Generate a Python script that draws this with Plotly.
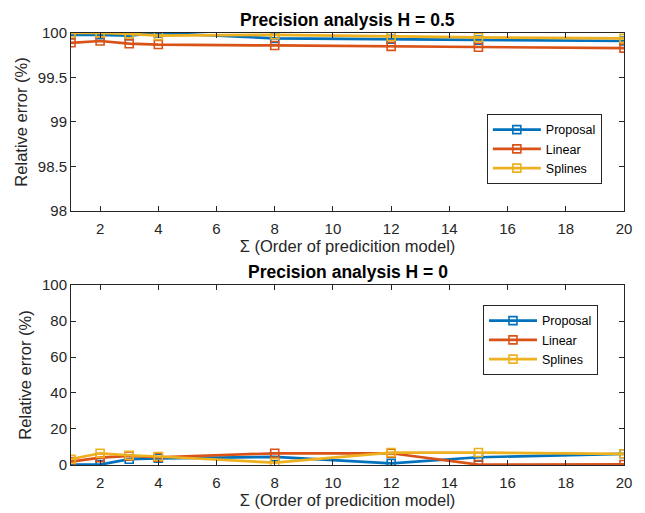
import plotly.graph_objects as go

x_order = [1, 2, 3, 4, 8, 12, 15, 20]
names = ["Proposal", "Linear", "Splines"]
colors = ["#0072BD", "#D95319", "#EDB120"]

top_proposal = [99.98, 99.98, 99.97, 100.0, 99.94, 99.93, 99.92, 99.91]
top_linear = [99.89, 99.91, 99.88, 99.87, 99.86, 99.85, 99.84, 99.83]
top_splines = [100.0, 100.0, 99.99, 99.97, 99.98, 99.96, 99.95, 99.94]

bot_proposal = [0.2, 0.2, 3.2, 3.7, 4.5, 0.9, 4.3, 6.2]
bot_linear = [1.9, 4.1, 5.0, 4.3, 6.5, 6.5, 0.2, 0.3]
bot_splines = [3.2, 6.5, 5.4, 4.7, 1.3, 6.9, 6.9, 6.2]

x_ticks = [2, 4, 6, 8, 10, 12, 14, 16, 18, 20]
top_yticks = [98, 98.5, 99, 99.5, 100]
bot_yticks = [0, 20, 40, 60, 80, 100]

FONT = "Liberation Sans, Arial, Helvetica"

fig = go.Figure()
for name, col, ys in zip(names, colors, [top_proposal, top_linear, top_splines]):
    fig.add_trace(go.Scatter(x=x_order, y=ys, name=name, mode="lines+markers",
                             line=dict(color=col, width=2.7),
                             marker=dict(symbol="square-open", size=8, color=col, line=dict(width=1.6)),
                             xaxis="x", yaxis="y", legend="legend"))
for name, col, ys in zip(names, colors, [bot_proposal, bot_linear, bot_splines]):
    fig.add_trace(go.Scatter(x=x_order, y=ys, name=name, mode="lines+markers",
                             line=dict(color=col, width=2.7),
                             marker=dict(symbol="square-open", size=8, color=col, line=dict(width=1.6)),
                             xaxis="x2", yaxis="y2", legend="legend2"))

axis_common = dict(showgrid=False, zeroline=False, showline=True, linecolor="#262626",
                   linewidth=1, mirror="ticks", ticks="inside", ticklen=5, tickcolor="#262626",
                   automargin=False,
                   tickfont=dict(family=FONT, size=15, color="#262626"))

xtitle = dict(text="Σ (Order of predicition model)", font=dict(family=FONT, size=16.5, color="#262626"), standoff=1)
ytitle = dict(text="Relative error (%)", font=dict(family=FONT, size=16.5, color="#262626"), standoff=6)

fig.update_layout(
    width=645, height=513,
    margin=dict(l=71, r=21, t=33, b=10),
    paper_bgcolor="white", plot_bgcolor="white",
    font=dict(family=FONT, color="#262626"),
    xaxis=dict(domain=[0, 1], anchor="y", range=[1, 20], tickvals=x_ticks,
               ticklabelstandoff=4, title=xtitle, **axis_common),
    yaxis=dict(domain=[0.6213, 1], anchor="x", range=[98, 100], tickvals=top_yticks,
               ticktext=["98", "98.5", "99", "99.5", "100"], title=ytitle, **axis_common),
    xaxis2=dict(domain=[0, 1], anchor="y2", range=[1, 20], tickvals=x_ticks,
                ticklabelstandoff=4, title=xtitle, **axis_common),
    yaxis2=dict(domain=[0.0809, 0.4638], anchor="x2", range=[0, 100], tickvals=bot_yticks,
                title=ytitle, **axis_common),
    legend=dict(x=0.752, y=0.8277, xanchor="left", yanchor="top",
                bordercolor="#262626", borderwidth=1, bgcolor="white",
                font=dict(family=FONT, size=12.5, color="black"), tracegroupgap=0, itemwidth=48),
    legend2=dict(x=0.745, y=0.4213, xanchor="left", yanchor="top",
                 bordercolor="#262626", borderwidth=1, bgcolor="white",
                 font=dict(family=FONT, size=12.5, color="black"), tracegroupgap=0, itemwidth=48),
    annotations=[
        dict(text="<b>Precision analysis H = 0.5</b>", x=0.5, y=1, xref="paper", yref="paper",
             xanchor="center", yanchor="bottom", showarrow=False, yshift=1,
             font=dict(family=FONT, size=17.5, color="black")),
        dict(text="<b>Precision analysis H = 0</b>", x=0.5, y=0.4638, xref="paper", yref="paper",
             xanchor="center", yanchor="bottom", showarrow=False, yshift=1,
             font=dict(family=FONT, size=17.5, color="black")),
    ],
)

fig.write_html("out.html")
